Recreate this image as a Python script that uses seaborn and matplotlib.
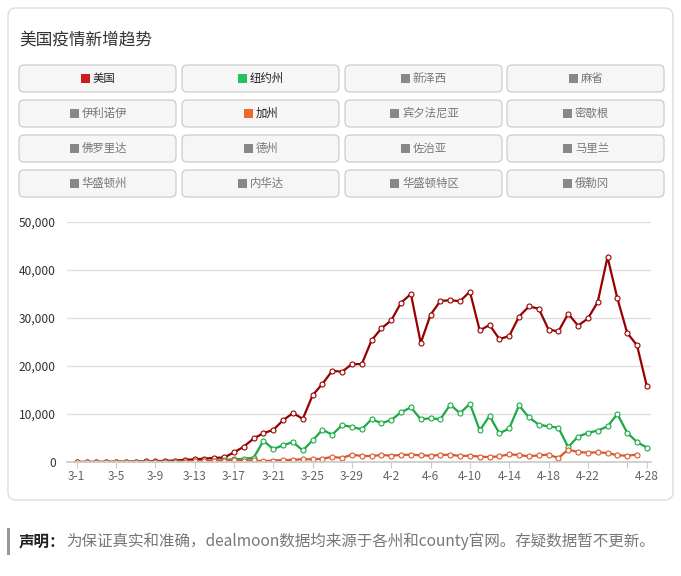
import pandas as pd
import numpy as np
import matplotlib.pyplot as plt
import seaborn as sns
from matplotlib.patches import FancyBboxPatch, Rectangle

sns.set_theme(style="white")
plt.rcParams['font.family'] = ['Noto Sans CJK SC', 'DejaVu Sans']

# Data (daily new cases), 3-1 .. 4-28
dates = pd.date_range('2020-03-01', '2020-04-28', freq='D')
us = [10, 20, 25, 30, 50, 70, 90, 120, 150, 250, 300, 450, 550, 700, 850, 950,
      2000, 3200, 4900, 6000, 6700, 8700, 10200, 9000, 13900, 16300, 19000, 18800, 20400,
      20400, 25350, 27850, 29500, 33200, 35000, 24800, 30700, 33550, 33700, 33500,
      35500, 27400, 28550, 25600, 26250, 30300, 32400, 31950, 27600, 27200,
      30900, 28400, 29900, 33300, 42700, 34100, 26900, 24300, 15800]
ny = [0, 0, 1, 9, 11, 22, 32, 16, 11, 64, 43, 96, 112, 137, 154, 432,
      550, 650, 900, 4400, 2700, 3500, 4150, 2400, 4500, 6700, 5700, 7700, 7300,
      6800, 8900, 8100, 8750, 10350, 11400, 8900, 9100, 8900, 11950, 10150,
      12150, 6600, 9600, 5950, 7000, 11800, 9300, 7800, 7400, 7150,
      3100, 5300, 6050, 6550, 7400, 10000, 6100, 4150, 3000]
ca = [10, 10, 10, 20, 20, 20, 30, 30, 40, 40, 60, 80, 200, 250, 300, 300,
      350, 300, 330, 150, 300, 400, 450, 600, 550, 700, 1050, 850, 1530,
      1250, 1250, 1460, 1320, 1460, 1530, 1390, 1320, 1460, 1530, 1250,
      1320, 1110, 1040, 1180, 1600, 1460, 1180, 1390, 1530, 830,
      2570, 2080, 1950, 2010, 1880, 1390, 1320, 1530, np.nan]

legend_names = ['美国', '纽约州', '新泽西', '麻省',
                '伊利诺伊', '加州', '宾夕法尼亚', '密歇根',
                '佛罗里达', '德州', '佐治亚', '马里兰',
                '华盛顿州', '内华达', '华盛顿特区', '俄勒冈']
legend_colors = {'美国': '#c81e1e', '纽约州': '#1fc45a', '加州': '#ee6a2c'}

df = pd.DataFrame({'day': np.arange(len(dates)), 'us': us, 'ny': ny, 'ca': ca})
tick_days = list(range(0, len(dates), 4)) + [len(dates) - 1]
tick_labels = [f"{d.month}-{d.day}" for d in dates[tick_days]]
tick_labels[-2] = ''  # 4-26 label hidden

W, H = 681, 576
fig = plt.figure(figsize=(W / 100, H / 100), dpi=100)

# background layer in pixel coordinates
bg = fig.add_axes([0, 0, 1, 1])
bg.set_xlim(0, W)
bg.set_ylim(H, 0)
bg.axis('off')

bg.add_patch(FancyBboxPatch((8, 8), 665, 492, boxstyle="round,pad=0,rounding_size=8",
                            fc='white', ec='#dddddd', lw=1))
bg.text(19, 40, '美国疫情新增趋势', fontsize=12, color='#333333', va='center', ha='left')

col_x = [19, 182, 345, 507]
row_y = [65, 100, 135, 170]
bw, bh = 157, 27
for k, name in enumerate(legend_names):
    x0 = col_x[k % 4]
    y0 = row_y[k // 4]
    bg.add_patch(FancyBboxPatch((x0, y0), bw, bh, boxstyle="round,pad=0,rounding_size=5",
                                fc='#f6f6f6', ec='#cccccc', lw=0.9))
    cx = x0 + bw / 2
    cy = y0 + bh / 2
    tw = len(name) * 11
    sq_x = cx - (tw + 12) / 2
    col = legend_colors.get(name, '#888888')
    bg.add_patch(Rectangle((sq_x, cy - 4.5), 9, 9, fc=col, ec='none'))
    txt_col = '#222222' if name in ('美国', '纽约州', '加州') else '#777777'
    bg.text(sq_x + 12, cy, name, fontsize=8.2, color=txt_col, va='center', ha='left')

# footer note
bg.add_patch(Rectangle((7, 528), 2.5, 27, fc='#999999', ec='none'))
bg.text(19, 541, '声明：', fontsize=11.2, fontweight='bold', color='#222222',
        va='center', ha='left')
bg.text(66, 541, '为保证真实和准确，dealmoon数据均来源于各州和county官网。存疑数据暂不更新。',
        fontsize=11.2, color='#777777', va='center', ha='left')

# chart axes
x_left, x_right = 67, 651
y_top, y_bot = 222, 462
ax = fig.add_axes([x_left / W, 1 - y_bot / H, (x_right - x_left) / W, (y_bot - y_top) / H])
ax.patch.set_alpha(0)

px_per_day = 9.83
first_px = 76.7
ax.set_xlim(-(first_px - x_left) / px_per_day, (x_right - first_px) / px_per_day)
ax.set_ylim(0, 50000)

series = [('us', '#990000'), ('ny', '#1aab45'), ('ca', '#d9592a')]
for col, color in series:
    sns.lineplot(data=df, x='day', y=col, ax=ax, color=color, lw=1.6,
                 marker='o', markersize=3.6, markerfacecolor='white',
                 markeredgecolor=color, markeredgewidth=0.8)

ax.set_yticks([0, 10000, 20000, 30000, 40000, 50000])
ax.set_yticklabels(['0', '10,000', '20,000', '30,000', '40,000', '50,000'])
ax.yaxis.grid(True, color='#e0e0e0', lw=1)
ax.set_xticks(tick_days)
ax.set_xticklabels(tick_labels)
ax.tick_params(axis='y', length=0, labelsize=8.6, labelcolor='#333333', pad=8)
ax.tick_params(axis='x', length=4, width=0.8, color='#cccccc', labelsize=8.6,
               labelcolor='#666666', pad=2, bottom=True)
for s in ['top', 'right', 'left']:
    ax.spines[s].set_visible(False)
ax.spines['bottom'].set_color('#cccccc')
ax.set_xlabel('')
ax.set_ylabel('')

fig.savefig('out.png', dpi=100)
